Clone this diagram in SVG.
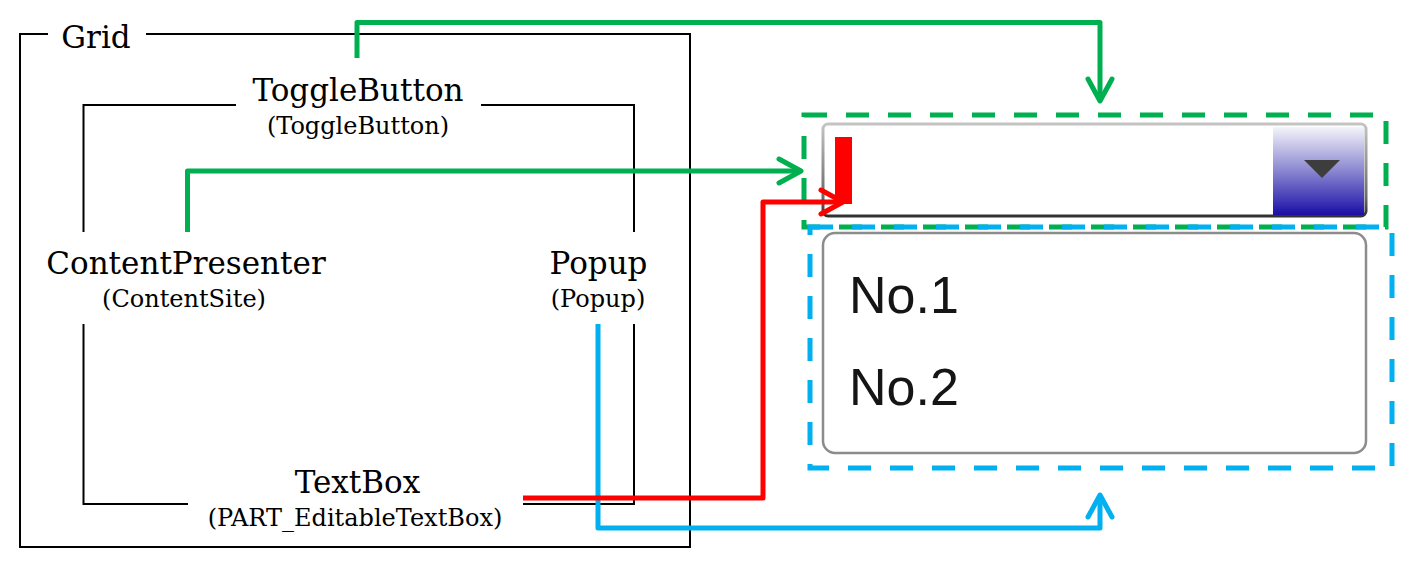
<svg xmlns="http://www.w3.org/2000/svg" width="1409" height="567" viewBox="0 0 1409 567">
<style>
.frame{fill:none;stroke:#000;stroke-width:2;}
.lbl{font-family:"DejaVu Serif","Liberation Serif",serif;font-size:31px;fill:#000;text-anchor:middle;}
.sub{font-family:"DejaVu Serif","Liberation Serif",serif;font-size:24px;fill:#000;text-anchor:middle;}
.item{font-family:"Liberation Sans",Arial,sans-serif;font-size:52px;fill:#151515;}
.conn{fill:none;stroke-width:5;stroke-linejoin:round;}
.g{stroke:#00b050;}
.r{stroke:#ff0000;}
.b{stroke:#00b0f0;}
.dash{fill:none;stroke-width:5;stroke-dasharray:23 19;}
</style>
<defs>
<marker id="mg" markerUnits="userSpaceOnUse" markerWidth="32" markerHeight="32" viewBox="0 0 32 32" refX="27" refY="16" orient="auto">
<path d="M5,4 L27,16 L5,28" fill="none" stroke="#00b050" stroke-width="5" stroke-linecap="round" stroke-linejoin="round"/>
</marker>
<marker id="mr" markerUnits="userSpaceOnUse" markerWidth="32" markerHeight="32" viewBox="0 0 32 32" refX="27" refY="16" orient="auto">
<path d="M5,4 L27,16 L5,28" fill="none" stroke="#ff0000" stroke-width="5" stroke-linecap="round" stroke-linejoin="round"/>
</marker>
<marker id="mb" markerUnits="userSpaceOnUse" markerWidth="32" markerHeight="32" viewBox="0 0 32 32" refX="27" refY="16" orient="auto">
<path d="M5,4 L27,16 L5,28" fill="none" stroke="#00b0f0" stroke-width="5" stroke-linecap="round" stroke-linejoin="round"/>
</marker>
<linearGradient id="btn" x1="0" y1="0" x2="0" y2="1">
<stop offset="0" stop-color="#f4f4fa"/>
<stop offset="0.5" stop-color="#8a86d0"/>
<stop offset="1" stop-color="#1a10a6"/>
</linearGradient>
<linearGradient id="edge" x1="0" y1="0" x2="0" y2="1">
<stop offset="0" stop-color="#c4c4c4"/>
<stop offset="0.8" stop-color="#6a6a6a"/>
<stop offset="1" stop-color="#303030"/>
</linearGradient>
<filter id="soft" x="-5%" y="-5%" width="110%" height="110%">
<feGaussianBlur stdDeviation="0.7"/>
</filter>
</defs>
<rect width="1409" height="567" fill="#fff"/>

<g id="grid">
<path class="frame" d="M48,34 H20 V547 H690 V34 H146"/>
<text class="lbl" x="96" y="48">Grid</text>
</g>

<g id="togglebutton">
<path class="frame" d="M236,105 H83.5 V232 M481,105 H634 V232"/>
<text class="lbl" x="358" y="101">ToggleButton</text>
<text class="sub" x="358" y="134">(ToggleButton)</text>
</g>

<g id="contentpresenter">
<text class="lbl" x="186" y="274">ContentPresenter</text>
<text class="sub" x="184" y="307">(ContentSite)</text>
</g>

<g id="popup">
<text class="lbl" x="598.5" y="274">Popup</text>
<text class="sub" x="598" y="307">(Popup)</text>
</g>

<g id="textbox">
<path class="frame" d="M83.5,324 V504 H188 M523,504 H634 V324"/>
<text class="lbl" x="357.5" y="493">TextBox</text>
<text class="sub" x="355" y="526">(PART_EditableTextBox)</text>
</g>

<g id="combobox-image">
<g filter="url(#soft)">
<rect x="823" y="124" width="543" height="92" rx="5" fill="#fff" stroke="url(#edge)" stroke-width="3"/>
<rect x="1273" y="127" width="91" height="88" fill="url(#btn)"/>
<path d="M1304,160 L1340,160 L1322,178 Z" fill="#3c3c3c"/>
<rect x="835" y="137" width="17" height="67" fill="#ff0000"/>
</g>
</g>

<g id="popup-image">
<rect x="823" y="233" width="543" height="220" rx="12" fill="#fff" stroke="#8c8c8c" stroke-width="2.5" filter="url(#soft)"/>
<text class="item" x="849" y="313">No.1</text>
<text class="item" x="849" y="405">No.2</text>
</g>

<g id="regions">
<rect class="dash g" x="804" y="115" width="582" height="112"/>
<rect class="dash b" x="810" y="227" width="582" height="241"/>
</g>

<g id="connectors">
<path class="conn g" d="M357,58 V22.5 H1100 V101" marker-end="url(#mg)"/>
<path class="conn g" d="M187.5,232 V171 H801" marker-end="url(#mg)"/>
<path class="conn b" d="M598,324 V528 H1100 V495" marker-end="url(#mb)"/>
<path class="conn r" d="M523,498 H763 V202 H843" marker-end="url(#mr)"/>
</g>
</svg>
